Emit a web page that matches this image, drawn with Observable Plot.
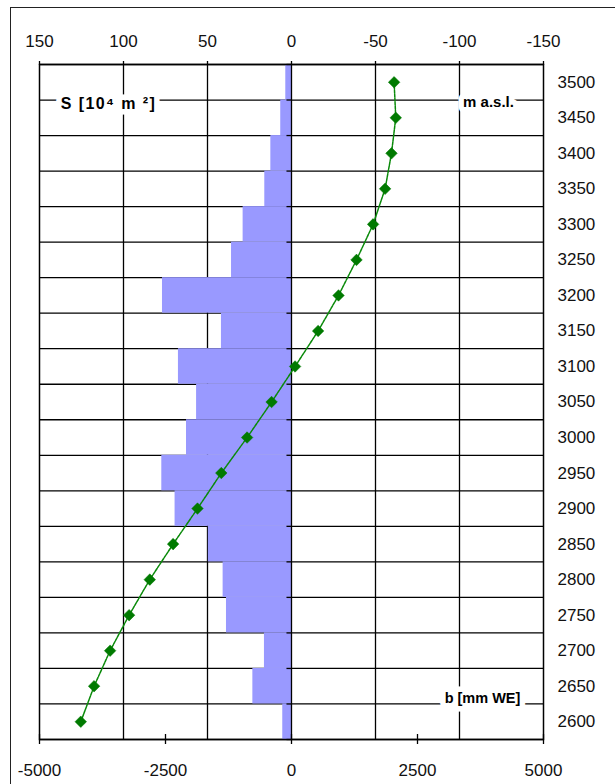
<!DOCTYPE html>
<html>
<head>
<meta charset="utf-8">
<script src="https://cdn.jsdelivr.net/npm/d3@7"></script>
<script src="https://cdn.jsdelivr.net/npm/@observablehq/plot@0.6"></script>
<style>
  html, body { margin: 0; padding: 0; background: #fff; }
  #wrap { position: relative; width: 615px; height: 784px; overflow: hidden; }
  #outer { position: absolute; left: 10px; top: 7px; width: 700px; height: 900px;
           border-left: 1px solid #222; border-top: 1px solid #222; pointer-events: none; }
</style>
</head>
<body>
<div id="wrap"><div id="outer"></div></div>
<script>
// Altitude bands (m a.s.l.), band centres
const altitudes = [3500, 3450, 3400, 3350, 3300, 3250, 3200, 3150, 3100, 3050, 3000, 2950, 2900, 2850, 2800, 2750, 2700, 2650, 2600];
// Area per band S [10^4 m^2]
const areaS = [3.4, 6.4, 12.3, 15.9, 28.8, 35.7, 76.8, 41.7, 67.3, 56.5, 62.5, 77.2, 69.3, 49.5, 40.7, 38.7, 16.1, 23.0, 5.2];
// Specific balance b [mm WE]
const balanceB = [2036, 2069, 1984, 1857, 1619, 1290, 933, 528, 71, -395, -881, -1393, -1865, -2349, -2812, -3222, -3599, -3917, -4181];
// Axis tick labels
const sTicks = [150, 100, 50, 0, -50, -100, -150];
const bTicks = [-5000, -2500, 0, 2500, 5000];
const bandWidth = 50;

// S axis (top, reversed) shares the horizontal scale with b: S=150 <-> b=-5000
const sToB = s => -s * 5000 / 150;
const data = altitudes.map((a, i) => ({alt: a, S: areaS[i], b: balanceB[i]}));
const edges = altitudes.map(a => a + bandWidth / 2).concat([altitudes[altitudes.length - 1] - bandWidth / 2]);
const yLo = d3.min(edges), yHi = d3.max(edges);
const gridS = sTicks.filter(s => s !== 0 && Math.abs(s) !== 150);

const font = "'Liberation Sans', Arial, sans-serif";

const chart = Plot.plot({
  width: 615,
  height: 784,
  marginLeft: 39,
  marginRight: 72,
  marginTop: 64,
  marginBottom: 45,
  style: {fontFamily: font, fontSize: "17px", background: "transparent", color: "#111"},
  x: {domain: [-5000, 5000], axis: null},
  y: {domain: [yLo, yHi], axis: null},
  marks: [
    // gridlines
    Plot.ruleY(edges, {stroke: "#000", strokeWidth: 1.3}),
    Plot.ruleX(gridS.map(sToB), {stroke: "#000", strokeWidth: 1.3}),
    // area bars
    Plot.rectX(data, {x1: 0, x2: d => sToB(d.S), y1: d => d.alt - bandWidth / 2, y2: d => d.alt + bandWidth / 2, fill: "#9999ff"}),
    // zero axis with small ticks
    Plot.ruleX([0], {stroke: "#000", strokeWidth: 1.3}),
    Plot.ruleY(edges, {x1: -90, x2: 0, stroke: "#000", strokeWidth: 1.3}),
    // balance profile
    Plot.line(data, {x: "b", y: "alt", stroke: "#0a8a0a", strokeWidth: 1.5, strokeDasharray: "3,1"}),
    Plot.dot(data, {x: "b", y: "alt", symbol: "diamond2", r: 5.2, fill: "#007a00", stroke: "#007a00", strokeWidth: 0.5}),
    // frame
    Plot.frame({stroke: "#000", strokeWidth: 1.5}),
    // top axis: S [10^4 m^2]
    Plot.axisX(sTicks.map(sToB), {anchor: "top", label: null, tickSize: 4, tickPadding: 14, fontSize: 17,
      tickFormat: d => String(Math.round(-d * 150 / 5000) || 0), stroke: "#000", strokeWidth: 1.3}),
    // bottom axis: b [mm WE]
    Plot.axisX(bTicks, {anchor: "bottom", label: null, tickSize: 5, tickPadding: 19, fontSize: 17,
      tickFormat: d => String(d), stroke: "#000", strokeWidth: 1.3}),
    Plot.ruleX(bTicks, {y1: yLo, y2: yLo + 7, stroke: "#000", strokeWidth: 1.3}),
    // right axis: altitude
    Plot.axisY(altitudes, {anchor: "right", label: null, tickSize: 0, tickPadding: 14, fontSize: 17, tickFormat: d => String(d)}),
    // axis titles with white boxes
    Plot.text(["S [10\u2074 m \u00b2]"], {frameAnchor: "top-left", dx: 69, dy: 39, textAnchor: "middle", lineAnchor: "middle",
      fontWeight: "bold", fontSize: 16, fill: "#000", stroke: "#fff", strokeWidth: 11}),
    Plot.text(["m a.s.l."], {frameAnchor: "top-right", dx: -55, dy: 38, textAnchor: "middle", lineAnchor: "middle",
      fontWeight: "bold", fontSize: 15, fill: "#000", stroke: "#fff", strokeWidth: 11}),
    Plot.text(["b [mm WE]"], {frameAnchor: "bottom-right", dx: -61, dy: -41, textAnchor: "middle", lineAnchor: "middle",
      fontWeight: "bold", fontSize: 14.5, fill: "#000", stroke: "#fff", strokeWidth: 11})
  ]
});
chart.querySelectorAll("text").forEach(t => {
  if (t.textContent.startsWith("S [")) t.setAttribute("letter-spacing", "1.4px");
});
chart.style.position = "absolute";
chart.style.left = "0";
chart.style.top = "0";
document.getElementById("wrap").insertBefore(chart, document.getElementById("outer"));
</script>
</body>
</html>
